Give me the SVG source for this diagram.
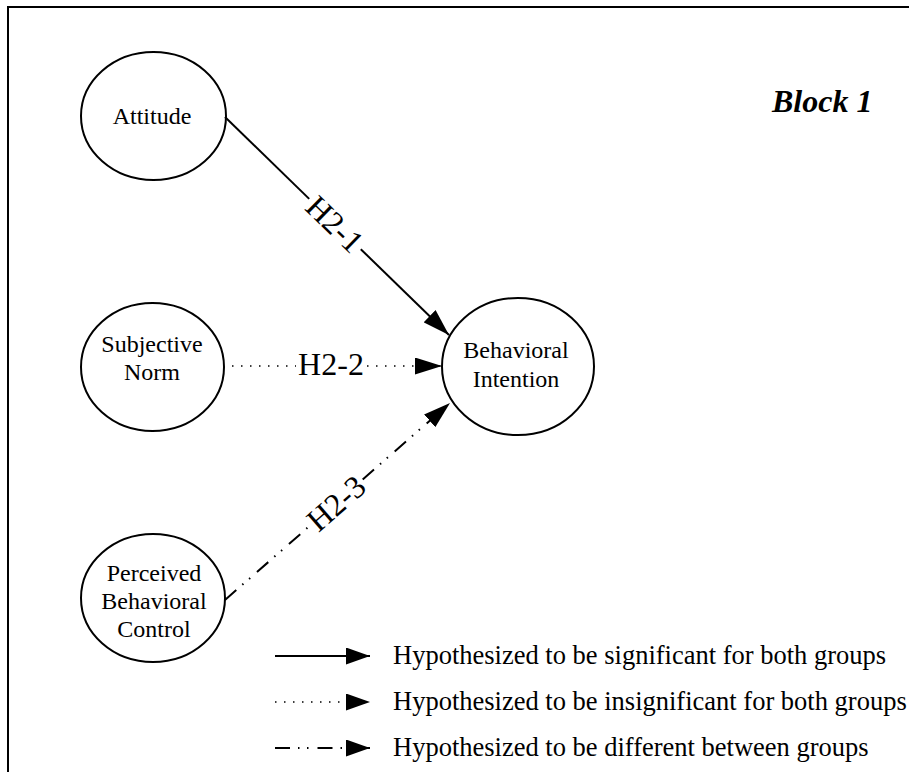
<svg xmlns="http://www.w3.org/2000/svg" width="909" height="772" viewBox="0 0 909 772">
  <defs>
    <style>
      .node ellipse { fill: #fff; stroke: #000; stroke-width: 2; }
      .lbl { font-family: "Liberation Serif", "Times New Roman", serif; font-size: 24px; fill: #000; text-anchor: middle; }
      .hyp { font-family: "Liberation Serif", "Times New Roman", serif; font-size: 32px; fill: #000; text-anchor: middle; }
      .leg { font-family: "Liberation Serif", "Times New Roman", serif; font-size: 26.5px; fill: #000; }
      .solid { stroke: #000; stroke-width: 2; fill: none; }
      .dotted { stroke: #000; stroke-width: 1.5; fill: none; stroke-dasharray: 1.5 7.5; }
      .dashdot { stroke: #000; stroke-width: 2; fill: none; stroke-dasharray: 15 8 1.5 7.5 1.5 9; }
    </style>
    <marker id="arrow" markerUnits="userSpaceOnUse" markerWidth="27" markerHeight="17" viewBox="0 0 27 17" refX="27" refY="8.5" orient="auto">
      <path d="M0,0 L27,8.5 L0,17 Z" fill="#000"/>
    </marker>
    <marker id="arrowLeg" markerUnits="userSpaceOnUse" markerWidth="24" markerHeight="17" viewBox="0 0 24 17" refX="24" refY="8.5" orient="auto">
      <path d="M0,0 L24,8.5 L0,17 Z" fill="#000"/>
    </marker>
  </defs>

  <rect width="909" height="772" fill="#fff"/>

  <!-- frame (open on the right and bottom) -->
  <path d="M8,772 V7 H909" fill="none" stroke="#000" stroke-width="2"/>

  <!-- heading -->
  <text x="772" y="112" font-family="'Liberation Serif', 'Times New Roman', serif" font-size="32" font-weight="bold" font-style="italic">Block 1</text>

  <!-- constructs -->
  <g id="attitude" class="node">
    <ellipse cx="153.5" cy="116" rx="72.5" ry="64"/>
    <text class="lbl" x="152" y="124">Attitude</text>
  </g>
  <g id="subjective-norm" class="node">
    <ellipse cx="152.5" cy="367" rx="71.5" ry="64"/>
    <text class="lbl" x="152" y="352">Subjective</text>
    <text class="lbl" x="152" y="380">Norm</text>
  </g>
  <g id="perceived-behavioral-control" class="node">
    <ellipse cx="153" cy="598" rx="72" ry="64"/>
    <text class="lbl" x="154" y="581">Perceived</text>
    <text class="lbl" x="154" y="609">Behavioral</text>
    <text class="lbl" x="154" y="637">Control</text>
  </g>
  <g id="behavioral-intention" class="node">
    <ellipse cx="518" cy="366.5" rx="76" ry="68.5"/>
    <text class="lbl" x="516" y="358">Behavioral</text>
    <text class="lbl" x="516" y="387">Intention</text>
  </g>

  <!-- hypothesised paths -->
  <g id="connectors">
    <!-- H2-1: attitude -> intention -->
    <line class="solid" x1="225" y1="117" x2="309.2" y2="198.9"/>
    <line class="solid" x1="360.8" y1="249.2" x2="449" y2="335" marker-end="url(#arrow)"/>
    <text class="hyp" transform="translate(335,224) rotate(44.2)" x="0" y="11">H2-1</text>

    <!-- H2-2: subjective norm -> intention -->
    <line class="dotted" x1="232" y1="366" x2="296" y2="366"/>
    <line class="dotted" x1="367" y1="366" x2="442" y2="366" marker-end="url(#arrow)"/>
    <text class="hyp" x="331" y="375">H2-2</text>

    <!-- H2-3: perceived behavioural control -> intention -->
    <line class="dashdot" x1="225" y1="600" x2="309.3" y2="526.2"/>
    <line class="dashdot" x1="362.7" y1="479.4" x2="450" y2="403" marker-end="url(#arrow)"/>
    <text class="hyp" transform="translate(336,503) rotate(-41.2)" x="0" y="11">H2-3</text>
  </g>

  <!-- key -->
  <g id="legend">
    <line class="solid" x1="275" y1="656" x2="370" y2="656" marker-end="url(#arrowLeg)"/>
    <text class="leg" x="393" y="664">Hypothesized to be significant for both groups</text>
    <line class="dotted" x1="275" y1="702" x2="370" y2="702" marker-end="url(#arrowLeg)"/>
    <text class="leg" x="393" y="710">Hypothesized to be insignificant for both groups</text>
    <line class="dashdot" x1="275" y1="748" x2="370" y2="748" marker-end="url(#arrowLeg)"/>
    <text class="leg" x="393" y="756">Hypothesized to be different between groups</text>
  </g>
</svg>
